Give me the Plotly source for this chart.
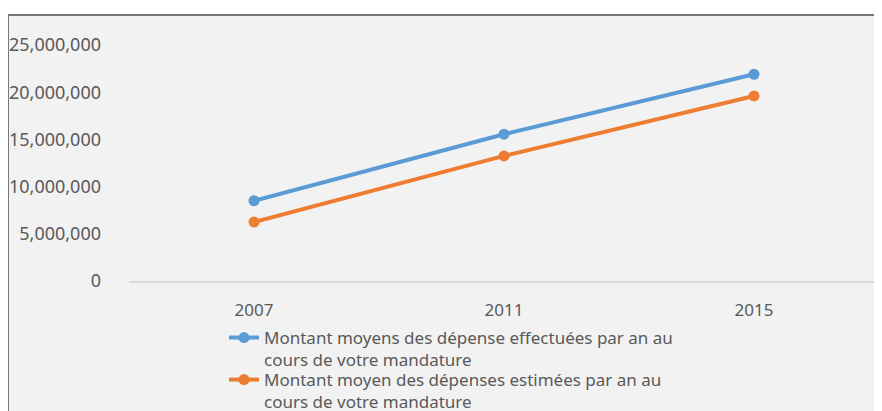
import plotly.graph_objects as go

years = ["2007", "2011", "2015"]
depenses_effectuees = [8500000, 15550000, 21900000]
depenses_estimees = [6250000, 13250000, 19600000]

name_effectuees = "Montant moyens des dépense effectuées par an au<br>cours de votre mandature"
name_estimees = "Montant moyen des dépenses estimées par an au<br>cours de votre mandature"

FONT = "Noto Sans"
GREY = "#595959"

# the page body has an 8px margin, so the figure is drawn 8px smaller
# and all pixel positions below are in page coordinates minus 8
OFF = 8
PLOT_L, PLOT_T, PLOT_W, PLOT_H = 129 - OFF, 45 - OFF, 750, 236

fig = go.Figure()
fig.add_trace(go.Scatter(x=years, y=depenses_effectuees, name=name_effectuees,
                         mode="lines+markers", line=dict(color="#5b9bd5", width=4),
                         marker=dict(size=11, color="#5b9bd5"), legend="legend"))
fig.add_trace(go.Scatter(x=years, y=depenses_estimees, name=name_estimees,
                         mode="lines+markers", line=dict(color="#ed7d31", width=4),
                         marker=dict(size=11, color="#ed7d31"), legend="legend2"))

# chart frame (grey area with dark top/left border)
fig.add_shape(type="rect", xref="paper", yref="paper",
              x0=(8 - 129) / PLOT_W, x1=1.2, y0=-0.7, y1=(281 - 15) / PLOT_H,
              fillcolor="#f2f2f2", line=dict(color="#505050", width=1.5), layer="below")

fig.update_xaxes(type="category", range=[-0.5, 2.5], showgrid=False,
                 showline=True, linecolor="#d9d9d9", linewidth=1.5,
                 tickfont=dict(family=FONT, size=17, color=GREY), ticklabelstandoff=13)
fig.update_yaxes(range=[0, 25000000], tickvals=[0, 5000000, 10000000, 15000000, 20000000, 25000000],
                 tickformat=",d", showgrid=False, zeroline=False,
                 tickfont=dict(family=FONT, size=18, color=GREY), ticklabelstandoff=27)

legend_style = dict(xanchor="left", yanchor="top", bgcolor="rgba(0,0,0,0)", valign="top",
                    font=dict(family=FONT, size=17, color=GREY))

fig.update_layout(
    width=882 - OFF, height=411 - OFF,
    margin=dict(l=PLOT_L, r=3, t=PLOT_T, b=411 - OFF - PLOT_T - PLOT_H, autoexpand=False),
    paper_bgcolor="white", plot_bgcolor="rgba(0,0,0,0)",
    showlegend=True,
    legend=dict(x=(224 - 129) / PLOT_W, y=(281 - 320) / PLOT_H, **legend_style),
    legend2=dict(x=(224 - 129) / PLOT_W, y=(281 - 362) / PLOT_H, **legend_style),
)

fig.write_html("out.html")
